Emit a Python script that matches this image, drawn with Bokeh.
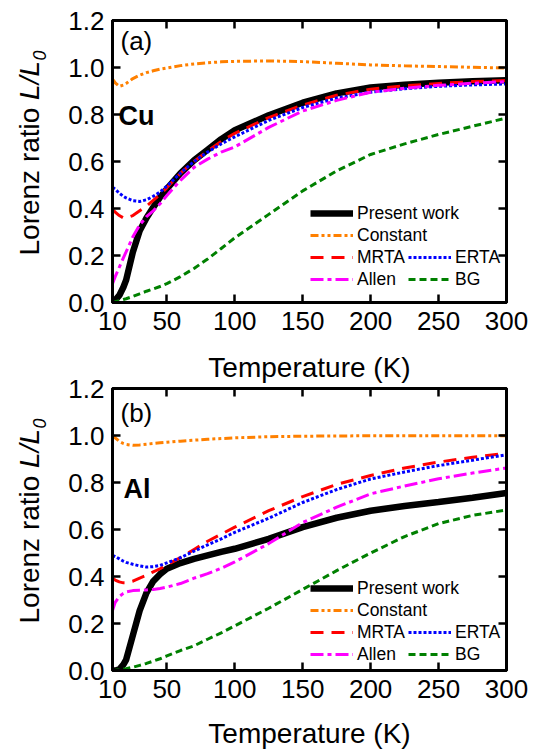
import numpy as np
from bokeh.plotting import figure
from bokeh.models import (FixedTicker, PrintfTickFormatter, LinearAxis, Legend,
                          LegendItem, Label, Range1d)
from bokeh.layouts import column, row
from bokeh.embed import file_html
from bokeh.resources import INLINE

# ---------------- data ----------------
T = [10, 12, 15, 18, 20, 25, 30, 35, 40, 45, 50, 60, 70, 80, 90, 100,
     125, 150, 175, 200, 225, 250, 275, 300]

# (a) Cu
cu_present = [0.0, 0.01, 0.03, 0.065, 0.095, 0.215, 0.305, 0.36, 0.405, 0.448, 0.483,
              0.55, 0.605, 0.65, 0.695, 0.733, 0.797, 0.85, 0.89, 0.915, 0.927, 0.935, 0.941, 0.946]
cu_constant = [0.95, 0.935, 0.92, 0.925, 0.932, 0.953, 0.967, 0.978, 0.986, 0.993, 0.998,
               1.008, 1.015, 1.02, 1.024, 1.026, 1.028, 1.025, 1.018, 1.011, 1.007, 1.004, 1.001, 0.998]
cu_mrta = [0.394, 0.385, 0.37, 0.36, 0.36, 0.37, 0.39, 0.41, 0.435, 0.46, 0.488,
           0.55, 0.60, 0.645, 0.685, 0.72, 0.787, 0.84, 0.882, 0.908, 0.922, 0.932, 0.94, 0.945]
cu_erta = [0.49, 0.482, 0.465, 0.452, 0.445, 0.433, 0.43, 0.437, 0.452, 0.47, 0.495,
           0.55, 0.60, 0.64, 0.675, 0.705, 0.775, 0.83, 0.87, 0.895, 0.91, 0.92, 0.926, 0.93]
cu_allen = [0.08, 0.11, 0.15, 0.19, 0.215, 0.28, 0.33, 0.365, 0.39, 0.42, 0.455,
            0.52, 0.575, 0.61, 0.64, 0.662, 0.745, 0.815, 0.86, 0.895, 0.912, 0.924, 0.933, 0.94]
cu_bg = [0.0, 0.003, 0.008, 0.013, 0.016, 0.026, 0.037, 0.048, 0.058, 0.068, 0.08,
         0.11, 0.145, 0.185, 0.23, 0.275, 0.375, 0.475, 0.56, 0.63, 0.675, 0.715, 0.75, 0.785]

# (b) Al
al_present = [0.0, 0.0, 0.005, 0.025, 0.045, 0.15, 0.255, 0.33, 0.38, 0.41, 0.433,
              0.457, 0.475, 0.49, 0.505, 0.518, 0.56, 0.61, 0.65, 0.68, 0.70, 0.717, 0.735, 0.755]
al_constant = [1.0, 0.99, 0.975, 0.966, 0.962, 0.958, 0.96, 0.963, 0.966, 0.969, 0.971,
               0.976, 0.98, 0.984, 0.987, 0.99, 0.995, 0.997, 0.998, 0.999, 0.999, 0.999, 0.999, 0.999]
al_mrta = [0.392, 0.385, 0.377, 0.373, 0.373, 0.38, 0.393, 0.405, 0.42, 0.433, 0.45,
           0.48, 0.515, 0.55, 0.58, 0.61, 0.68, 0.74, 0.792, 0.83, 0.862, 0.887, 0.907, 0.925]
al_erta = [0.49, 0.485, 0.475, 0.465, 0.46, 0.452, 0.445, 0.44, 0.442, 0.447, 0.458,
           0.48, 0.508, 0.535, 0.56, 0.588, 0.648, 0.715, 0.77, 0.815, 0.845, 0.872, 0.895, 0.918]
al_allen = [0.255, 0.29, 0.315, 0.328, 0.334, 0.34, 0.342, 0.343, 0.345, 0.349, 0.355,
            0.37, 0.393, 0.412, 0.435, 0.462, 0.54, 0.63, 0.695, 0.752, 0.785, 0.816, 0.84, 0.862]
al_bg = [0.0, 0.001, 0.003, 0.006, 0.008, 0.014, 0.022, 0.03, 0.04, 0.05, 0.062,
         0.085, 0.105, 0.133, 0.16, 0.19, 0.265, 0.345, 0.425, 0.50, 0.57, 0.625, 0.66, 0.683]

series_names = ["Present work", "Constant", "MRTA", "ERTA", "Allen", "BG"]
x_ticks = [10, 50, 100, 150, 200, 250, 300]
y_ticks = [0.0, 0.2, 0.4, 0.6, 0.8, 1.0, 1.2]
x_label = "Temperature (K)"
y_label_parts = ["Lorenz ratio ", "L/L", "0"]

# ---------------- styles ----------------
FONT = "Liberation Sans"
STYLES = {
    "Present work": dict(line_color="black", line_width=6.5, line_dash="solid"),
    "Constant": dict(line_color="#FF8000", line_width=3, line_dash="8 3 3 3 3 3"),
    "MRTA": dict(line_color="#FF0000", line_width=3, line_dash="13 8"),
    "ERTA": dict(line_color="#0000FF", line_width=3, line_dash="3 2"),
    "Allen": dict(line_color="#FF00FF", line_width=3, line_dash="13 4 4 4"),
    "BG": dict(line_color="#008000", line_width=3, line_dash="7 4"),
}

LAB_W = 60          # width of the strip that holds the y-axis title
MAIN_W = 475
MID = 0.3465        # baseline offset of the text middle, in em
FRAME_H = 282


def style_axis(ax, labels=True):
    ax.axis_line_width = 3
    ax.axis_line_color = "black"
    ax.major_tick_in = 8
    ax.major_tick_out = 0
    ax.major_tick_line_width = 2.5
    ax.major_tick_line_color = "black"
    ax.minor_tick_line_color = None
    ax.major_label_text_font = FONT
    ax.major_label_text_color = "black"
    if labels:
        ax.major_label_text_font_size = "26px"
    ax.axis_label_text_font = FONT
    ax.axis_label_text_font_size = "28px"
    ax.axis_label_text_font_style = "normal"
    ax.axis_label_text_color = "black"


def make_ylabel(h):
    # its frame is aligned (top/bottom) with the neighbouring panel's frame
    q = figure(width=LAB_W, height=h, x_range=Range1d(0, 1), y_range=Range1d(0, 1),
               output_backend="svg", toolbar_location=None,
               x_axis_location=None, y_axis_location=None, min_border=0)
    q.grid.visible = False
    q.outline_line_color = None
    q.background_fill_color = "white"
    q.border_fill_color = "white"
    base_x = 39        # baseline (rotated text) in px from the left
    y0 = 47            # start of the text above the frame bottom
    w1 = 155.6         # advance of "Lorenz ratio " at 28px
    w2 = 38.9          # advance of "L/L" at 28px
    q.add_layout(Label(x=base_x - MID * 28, y=y0, x_units="screen", y_units="screen",
                       text=y_label_parts[0], angle=np.pi / 2, text_font=FONT,
                       text_color="black",
                       text_font_size="28px", text_align="left", text_baseline="middle"))
    q.add_layout(Label(x=base_x - MID * 28, y=y0 + w1, x_units="screen", y_units="screen",
                       text=y_label_parts[1], angle=np.pi / 2, text_font=FONT,
                       text_font_style="italic", text_color="black",
                       text_font_size="28px", text_align="left", text_baseline="middle"))
    q.add_layout(Label(x=base_x + 6 - MID * 18, y=y0 + w1 + w2 + 0.5, x_units="screen",
                       y_units="screen",
                       text=y_label_parts[2], angle=np.pi / 2, text_font=FONT,
                       text_font_style="italic", text_color="black",
                       text_font_size="18px", text_align="left", text_baseline="middle"))
    return q


def make_panel(vals, tag, metal, h, b_top, b_bottom, leg_y, tag_base, metal_x, metal_base,
               top_title=None, with_xlabel=True):
    p = figure(width=MAIN_W, height=h, x_range=Range1d(10, 300), y_range=Range1d(0, 1.2),
               output_backend="svg", toolbar_location=None,
               min_border_left=112 - LAB_W, min_border_right=MAIN_W - (112 - LAB_W) - 394,
               min_border_top=b_top, min_border_bottom=b_bottom)
    p.grid.visible = False
    p.outline_line_color = "black"
    p.outline_line_width = 3
    p.background_fill_color = "white"
    p.border_fill_color = "white"

    if top_title:
        # the x-axis title of the panel above, drawn in this figure's top border
        p.title.text = top_title
        p.title.align = "center"
        p.title.text_font = FONT
        p.title.text_font_size = "28px"
        p.title.text_font_style = "normal"
        p.title.text_color = "black"
        p.title.standoff = 12

    xa = p.xaxis[0]
    ya = p.yaxis[0]
    xa.ticker = FixedTicker(ticks=x_ticks)
    ya.ticker = FixedTicker(ticks=y_ticks)
    xa.formatter = PrintfTickFormatter(format="%d")
    ya.formatter = PrintfTickFormatter(format="%.1f")
    style_axis(xa)
    style_axis(ya)
    xa.major_label_standoff = 9
    ya.major_label_standoff = 8
    if with_xlabel:
        xa.axis_label = x_label
        xa.axis_label_standoff = 17

    top = LinearAxis(ticker=FixedTicker(ticks=x_ticks),
                     major_label_overrides={t: "" for t in x_ticks})
    right = LinearAxis(ticker=FixedTicker(ticks=y_ticks),
                       major_label_overrides={t: "" for t in y_ticks})
    for ax in (top, right):
        style_axis(ax, labels=False)
        ax.major_label_text_font_size = "1px"
        ax.major_label_standoff = 0
    p.add_layout(top, "above")
    p.add_layout(right, "right")

    renderers = {}
    for name in series_names:
        renderers[name] = p.line(T, vals[name], **STYLES[name])

    leg1 = Legend(items=[LegendItem(label=n, renderers=[renderers[n]])
                         for n in ["Present work", "Constant", "MRTA", "Allen"]],
                  location=(198, leg_y))
    leg2 = Legend(items=[LegendItem(label=n, renderers=[renderers[n]])
                         for n in ["ERTA", "BG"]],
                  location=(296, leg_y))
    for lg in (leg1, leg2):
        lg.label_text_font = FONT
        lg.label_text_font_size = "17.5px"
        lg.label_text_color = "black"
        lg.glyph_width = 43
        lg.glyph_height = 22
        lg.label_height = 22
        lg.label_standoff = 4
        lg.spacing = 0
        lg.padding = 0
        lg.margin = 0
        lg.background_fill_alpha = 0
        lg.border_line_alpha = 0
        p.add_layout(lg)

    # tag and metal name: baselines given in px above the frame bottom
    p.add_layout(Label(x=8, y=tag_base + MID * 26, x_units="screen", y_units="screen",
                       text=tag, text_color="black", text_font=FONT,
                       text_font_size="26px", text_baseline="middle"))
    p.add_layout(Label(x=metal_x, y=metal_base + MID * 27, x_units="screen", y_units="screen",
                       text=metal, text_color="black", text_font=FONT,
                       text_font_size="27px", text_font_style="bold",
                       text_baseline="middle"))
    return p


vals_cu = dict(zip(series_names, [cu_present, cu_constant, cu_mrta, cu_erta, cu_allen, cu_bg]))
vals_al = dict(zip(series_names, [al_present, al_constant, al_mrta, al_erta, al_allen, al_bg]))

H_A, H_B = 341, 410
TOP_A = 20
TOP_B = 388 - H_A
pa = make_panel(vals_cu, "(a)", "Cu", H_A, TOP_A, H_A - TOP_A - FRAME_H, 12, 252, 6, 177,
                top_title=None, with_xlabel=False)
pb = make_panel(vals_al, "(b)", "Al", H_B, TOP_B, H_B - TOP_B - FRAME_H, 5, 248, 11, 172,
                top_title=x_label, with_xlabel=True)
la = make_ylabel(H_A)
lb = make_ylabel(H_B)

layout = column(row(la, pa, spacing=0), row(lb, pb, spacing=0), spacing=0)
open("out.html", "w").write(file_html(layout, INLINE))
